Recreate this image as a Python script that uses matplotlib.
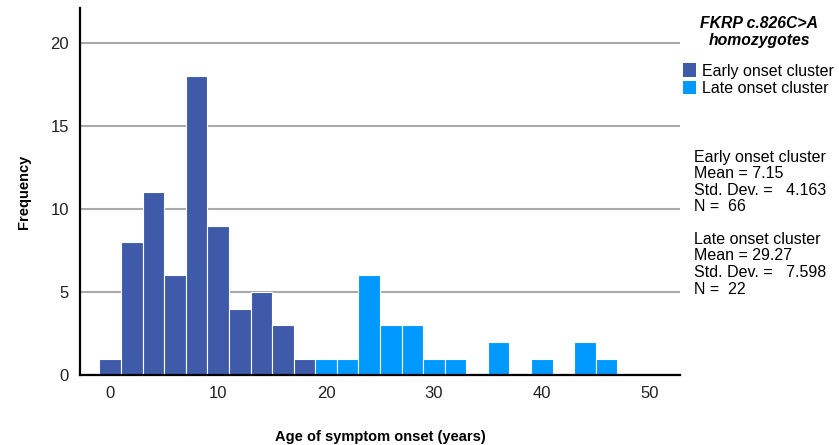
import matplotlib.pyplot as plt
from matplotlib.patches import Patch

# Histogram bins (2-year wide, centred on even ages) and counts per cluster
bin_centers = [0, 2, 4, 6, 8, 10, 12, 14, 16, 18, 20, 22, 24, 26, 28, 30, 32, 34, 36, 38, 40, 42, 44, 46]
early_counts = [1, 8, 11, 6, 18, 9, 4, 5, 3, 1, 0, 0, 0, 0, 0, 0, 0, 0, 0, 0, 0, 0, 0, 0]
late_counts = [0, 0, 0, 0, 0, 0, 0, 0, 0, 0, 1, 1, 6, 3, 3, 1, 1, 0, 2, 0, 1, 0, 2, 1]

stats_text = [
    "Early onset cluster\nMean = 7.15\nStd. Dev. =   4.163\nN =  66",
    "Late onset cluster\nMean = 29.27\nStd. Dev. =   7.598\nN =  22",
]

EARLY = "#3E5AA9"
LATE = "#0099FF"

plt.rcParams["font.family"] = ["Liberation Sans", "DejaVu Sans"]

fig = plt.figure(figsize=(8.39, 4.45), dpi=100)
ax = fig.add_axes([0.0954, 0.157, 0.715, 0.825])

ax.bar(bin_centers, early_counts, width=2, color=EARLY, edgecolor="white", linewidth=0.8, zorder=3)
ax.bar(bin_centers, late_counts, width=2, color=LATE, edgecolor="white", linewidth=0.8, zorder=3)

ax.set_xlim(-2.8, 52.8)
ax.set_ylim(0, 22.1)
ax.set_xticks([0, 10, 20, 30, 40, 50])
ax.set_yticks([0, 5, 10, 15, 20])
ax.tick_params(length=0, labelsize=12, colors="#222222", pad=8)
ax.tick_params(axis="y", pad=8)
ax.yaxis.grid(True, color="#aaaaaa", linewidth=1.5, zorder=0)
ax.set_axisbelow(True)
for side in ("top", "right"):
    ax.spines[side].set_visible(False)
for side in ("left", "bottom"):
    ax.spines[side].set_linewidth(1.6)
    ax.spines[side].set_zorder(4)

ax.set_xlabel("Age of symptom onset (years)", fontsize=10.5, fontweight="bold", labelpad=21)
ax.set_ylabel("Frequency", fontsize=10.5, fontweight="bold", labelpad=14)

handles = [Patch(facecolor=EARLY, label="Early onset cluster"),
           Patch(facecolor=LATE, label="Late onset cluster")]
fig.legend(handles=handles, loc="upper left", bbox_to_anchor=(0.807, 0.872),
           frameon=False, fontsize=11.5, handlelength=0.8, handleheight=0.95,
           handletextpad=0.35, labelspacing=0.12, borderaxespad=0)

fig.text(0.905, 0.928, "FKRP c.826C>A\nhomozygotes", ha="center", va="center",
         fontsize=11.3, fontweight="bold", fontstyle="italic", linespacing=1.1)

fig.text(0.827, 0.664, stats_text[0], ha="left", va="top", fontsize=11.5, linespacing=1.13)
fig.text(0.827, 0.479, stats_text[1], ha="left", va="top", fontsize=11.5, linespacing=1.13)

fig.savefig("out.png", dpi=100)
